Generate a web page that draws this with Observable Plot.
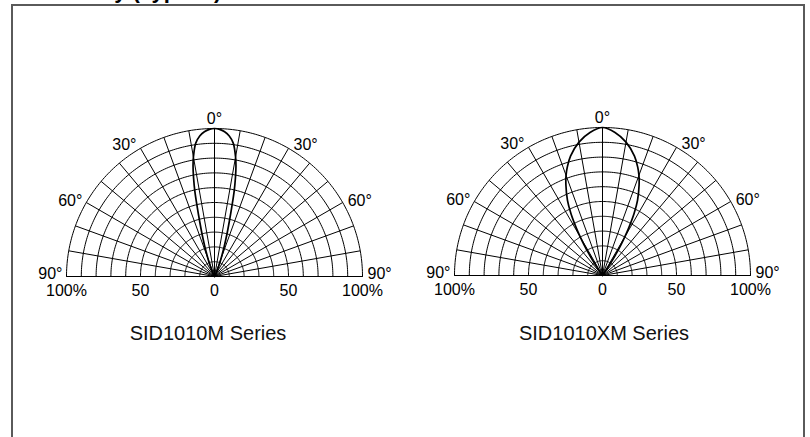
<!DOCTYPE html>
<html>
<head>
<meta charset="utf-8">
<script src="https://cdn.jsdelivr.net/npm/d3@7"></script>
<script src="https://cdn.jsdelivr.net/npm/@observablehq/plot@0.6"></script>
<style>
  html, body { margin: 0; padding: 0; background: #fff; }
  #root { position: relative; width: 810px; height: 437px; overflow: hidden; background: #fff;
          font-family: "Liberation Sans", Arial, Helvetica, sans-serif; }
  #title { position: absolute; left: 20px; top: -20px; font-size: 22px; line-height: 22px; font-weight: bold; color: #000; white-space: nowrap; }
  #frame { position: absolute; left: 11px; top: 4px; width: 794px; height: 500px; box-sizing: border-box;
           border: 2px solid #5a5a5a; border-bottom: none; }
  .chart { position: absolute; }
  .caption { position: absolute; width: 380px; text-align: center; font-size: 20px; line-height: 24px; color: #111; }
</style>
</head>
<body>
<div id="root">
  <div id="title">Directivity (Typical)</div>
  <div id="frame"></div>
</div>
<script>
// ---- data ----
const seriesNames = ["SID1010M Series", "SID1010XM Series"];
// relative intensity vs. angle (degrees), symmetric lobes
const mAngle = [0, 2, 4, 6, 8, 10, 11, 12, 13, 14, 15, 16, 17, 18, 20, 22, 25, 30];
const mRel   = [1.00, 0.995, 0.98, 0.955, 0.91, 0.82, 0.76, 0.68, 0.59, 0.48, 0.39, 0.32, 0.26, 0.21, 0.13, 0.08, 0.03, 0];
const xmAngle = [0, 5, 10, 15, 18, 20, 22, 25, 27, 29, 30, 31, 32, 33, 34, 36, 38];
const xmRel   = [1.00, 0.97, 0.915, 0.835, 0.77, 0.72, 0.66, 0.56, 0.47, 0.36, 0.30, 0.24, 0.18, 0.12, 0.07, 0.02, 0];
// tick labels
const angleTicks = [-90, -60, -30, 0, 30, 60, 90];
const angleTickLabels = ["90°", "60°", "30°", "0°", "30°", "60°", "90°"];
const radialTicks = [-1, -0.5, 0, 0.5, 1];
const radialTickLabels = ["100%", "50", "0", "50", "100%"];
const ringValues = [0.1, 0.2, 0.3, 0.4, 0.5, 0.6, 0.7, 0.8, 0.9, 1.0];
const spokeAngles = d3.range(-90, 91, 10);

// ---- layout ----
const K = 148;           // pixels per 100%
const W = 380, H = 250;  // svg size
const CY = 176;          // center offset inside svg

const rad = a => a * Math.PI / 180;
const px = (a, r) => r * Math.sin(rad(a));
const py = (a, r) => r * Math.cos(rad(a));

function makeChart(angles, rel) {
  const rings = ringValues.flatMap(r => d3.range(-90, 90.01, 1).map(a => ({r, a})));
  const spokes = spokeAngles.map(a => ({a}));
  const lobe = [];
  for (let i = angles.length - 1; i >= 0; i--) lobe.push({a: -angles[i], r: rel[i]});
  for (let i = 1; i < angles.length; i++) lobe.push({a: angles[i], r: rel[i]});
  const labels = angleTicks.map((a, i) => ({a, t: angleTickLabels[i]}));
  const left = labels.filter(d => d.a < 0), right = labels.filter(d => d.a > 0), top = labels.filter(d => d.a === 0);
  const dyOf = a => Math.abs(a) === 60 ? -2 : -3;
  const rlabels = radialTicks.map((v, i) => ({v, t: radialTickLabels[i]}));
  const txt = {fontSize: 16, fill: "black", fontFamily: "Liberation Sans, Arial, sans-serif"};
  return Plot.plot({
    width: W, height: H, margin: 0,
    x: {domain: [-W / 2 / K, W / 2 / K], axis: null},
    y: {domain: [(CY - H) / K, CY / K], axis: null},
    style: {background: "transparent", overflow: "visible"},
    marks: [
      Plot.line(rings, {x: d => px(d.a, d.r), y: d => py(d.a, d.r), z: "r", stroke: "black", strokeWidth: 1}),
      Plot.link(spokes, {x1: () => 0, y1: () => 0, x2: d => px(d.a, 1), y2: d => py(d.a, 1), stroke: "black", strokeWidth: 1}),
      Plot.line(lobe, {x: d => px(d.a, d.r), y: d => py(d.a, d.r), stroke: "black", strokeWidth: 1.7, curve: "catmull-rom"}),
      ...left.map(d => Plot.text([d], {x: d => px(d.a, 1), y: d => py(d.a, 1), text: "t", textAnchor: "end", dx: -4, dy: dyOf(d.a), ...txt})),
      ...right.map(d => Plot.text([d], {x: d => px(d.a, 1), y: d => py(d.a, 1), text: "t", textAnchor: "start", dx: 5, dy: dyOf(d.a), ...txt})),
      Plot.text(top, {x: d => px(d.a, 1), y: d => py(d.a, 1), text: "t", textAnchor: "middle", dy: -10, ...txt}),
      Plot.text(rlabels, {x: "v", y: () => 0, text: "t", textAnchor: "middle", dy: 14, ...txt})
    ]
  });
}

const root = document.getElementById("root");
const centers = [[214, 276], [601.5, 274.5]];
const captionCenters = [208, 604];
[[mAngle, mRel], [xmAngle, xmRel]].forEach(([a, r], i) => {
  const svg = makeChart(a, r);
  svg.classList.add("chart");
  svg.style.left = (centers[i][0] - W / 2) + "px";
  svg.style.top = (centers[i][1] - CY) + "px";
  root.appendChild(svg);
  const cap = document.createElement("div");
  cap.className = "caption";
  cap.textContent = seriesNames[i];
  cap.style.left = (captionCenters[i] - 190) + "px";
  cap.style.top = "321px";
  root.appendChild(cap);
});
</script>
</body>
</html>
